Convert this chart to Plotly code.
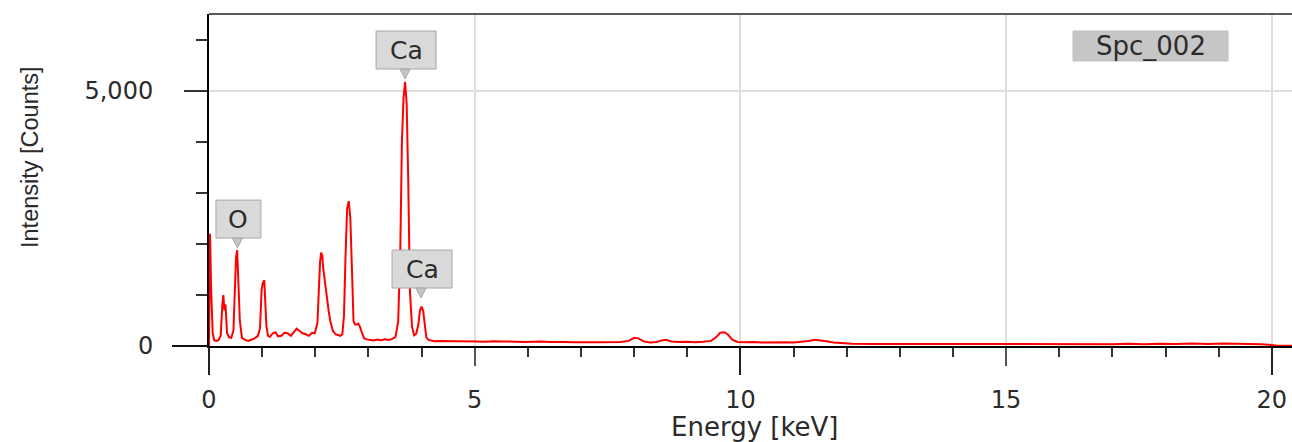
import plotly.graph_objects as go

# ---------------- data ----------------
energy_kev = [
    0.00, 0.02, 0.04, 0.07, 0.10, 0.14, 0.18, 0.22, 0.25, 0.27, 0.29, 0.31, 0.34, 0.38, 0.42,
    0.46, 0.49, 0.51, 0.53, 0.55, 0.58, 0.62, 0.68, 0.74, 0.80, 0.86, 0.92, 0.96, 0.99, 1.01,
    1.04, 1.06, 1.08, 1.11, 1.15, 1.20, 1.25, 1.30, 1.36, 1.42, 1.48, 1.54, 1.60, 1.65, 1.70,
    1.76, 1.82, 1.88, 1.94, 1.99, 2.04, 2.07, 2.09, 2.11, 2.13, 2.15, 2.18, 2.21, 2.25, 2.28,
    2.33, 2.38, 2.43, 2.47, 2.51, 2.54, 2.57, 2.60, 2.63, 2.66, 2.69, 2.72, 2.75, 2.78, 2.81,
    2.84, 2.88, 2.92, 2.97, 3.03, 3.10, 3.17, 3.24, 3.31, 3.38, 3.45, 3.51, 3.56, 3.60, 3.63,
    3.66, 3.69, 3.72, 3.75, 3.78, 3.82, 3.86, 3.90, 3.94, 3.97, 4.00, 4.03, 4.06, 4.09, 4.13,
    4.18, 4.24, 4.32, 4.45, 4.60, 4.75, 4.90, 5.05, 5.20, 5.35, 5.50, 5.65, 5.80, 5.95, 6.10,
    6.25, 6.40, 6.55, 6.70, 6.85, 7.00, 7.15, 7.30, 7.45, 7.60, 7.75, 7.90, 8.00, 8.08, 8.18,
    8.30, 8.42, 8.52, 8.60, 8.70, 8.85, 9.00, 9.15, 9.30, 9.45, 9.55, 9.62, 9.70, 9.77, 9.85,
    9.95, 10.10, 10.25, 10.40, 10.55, 10.70, 10.85, 11.00, 11.15, 11.28, 11.40, 11.50, 11.62, 11.75, 11.90,
    12.10, 12.50, 13.00, 13.50, 14.00, 14.50, 15.00, 15.50, 16.00, 16.50, 17.00, 17.30, 17.60, 17.90, 18.20,
    18.50, 18.80, 19.10, 19.40, 19.60, 19.80, 20.00, 20.10, 20.45,
]
counts = [
    0, 2200, 1100, 250, 110, 100, 120, 200, 800, 1000, 700, 820, 250, 170, 160,
    300, 1200, 1750, 1880, 1400, 500, 160, 120, 100, 130, 150, 200, 350, 1100, 1230,
    1290, 900, 400, 200, 180, 250, 270, 190, 200, 260, 250, 200, 290, 340, 300,
    250, 230, 200, 260, 250, 450, 1200, 1650, 1830, 1780, 1520, 1250, 1030, 700, 500,
    300, 230, 210, 200, 230, 600, 1800, 2700, 2840, 2500, 1500, 480, 420, 420, 440,
    380, 250, 150, 130, 120, 110, 125, 115, 130, 120, 140, 180, 480, 1900, 4000,
    4850, 5180, 4750, 3200, 1100, 380, 210, 240, 420, 700, 770, 690, 420, 170, 120,
    105, 95, 100, 100, 90, 95, 100, 90, 85, 95, 90, 85, 90, 80, 85,
    90, 80, 85, 80, 75, 80, 75, 75, 75, 75, 80, 100, 160, 150, 90,
    70, 80, 110, 120, 90, 80, 85, 75, 85, 100, 180, 260, 270, 220, 120,
    80, 75, 80, 70, 75, 70, 75, 70, 80, 100, 120, 115, 95, 70, 55,
    45, 40, 40, 35, 35, 35, 30, 30, 30, 30, 35, 45, 35, 45, 40,
    50, 40, 50, 45, 50, 35, 20, 5, 5,
]

peak_labels = ["O", "Ca", "Ca"]
peak_label_energy = [0.535, 3.69, 3.99]
peak_label_counts = [1920, 5235, 940]

spectrum_name = "Spc_002"
x_title = "Energy [keV]"
y_title = "Intensity [Counts]"
x_range = [0, 20.38]
y_range = [0, 6510]
x_long_ticks = [0, 10, 20]
y_long_ticks = [0]

# ---------------- layout constants ----------------
W, H = 1292, 442
ML, MR, MT, MB = 209, 0, 14, 96
PW = W - ML - MR
PH = H - MT - MB


def px_x(p):
    return (p - ML) / PW


def px_y(p):
    return (H - MB - p) / PH


TXT = "#2b2b2b"
FONT = "DejaVu Sans"

fig = go.Figure()
fig.add_trace(go.Scatter(
    x=energy_kev, y=counts, mode="lines",
    line=dict(color="#ff0000", width=2),
    hoverinfo="skip", showlegend=False,
))
# carrier trace for the overlay axes that draw the longer ticks
fig.add_trace(go.Scatter(x=[None], y=[None], xaxis="x2", yaxis="y2",
                         mode="lines", showlegend=False, hoverinfo="skip"))

# peak labels: grey box with a small pointer
for lab, ex, cy in zip(peak_labels, peak_label_energy, peak_label_counts):
    bw = 45 if len(lab) == 1 else 60
    bh = 38
    th = 10
    fig.add_shape(type="rect", xref="x", yref="y", xsizemode="pixel", ysizemode="pixel",
                  xanchor=ex, yanchor=cy, x0=-bw / 2 + 1, x1=bw / 2 + 1, y0=th, y1=th + bh,
                  fillcolor="#d9d9d9", line=dict(color="#a8a8a8", width=1), layer="above")
    fig.add_shape(type="path", xref="x", yref="y", xsizemode="pixel", ysizemode="pixel",
                  xanchor=ex, yanchor=cy, path=f"M -5,{th} L 5,{th} L 0,0 Z",
                  fillcolor="#c4c4c4", line=dict(color="#a8a8a8", width=1), layer="above")
    fig.add_annotation(x=ex, y=cy, xref="x", yref="y", text=lab, showarrow=False,
                       xshift=1, yshift=th + bh / 2, xanchor="center", yanchor="middle",
                       font=dict(family=FONT, size=25, color=TXT))

# spectrum name box
fig.add_shape(type="rect", xref="paper", yref="paper",
              x0=px_x(1073), x1=px_x(1228), y0=px_y(61), y1=px_y(31),
              fillcolor="#c6c6c6", line=dict(color="#c0c0c0", width=1), layer="above")
fig.add_annotation(xref="paper", yref="paper", x=px_x(1150.5), y=px_y(46),
                   text=spectrum_name, showarrow=False, xanchor="center", yanchor="middle",
                   font=dict(family=FONT, size=26, color=TXT))

# top frame line
fig.add_shape(type="line", xref="paper", yref="paper", x0=0, x1=1, y0=1, y1=1,
              line=dict(color="#5a5a5a", width=2), layer="above")

# axis titles
fig.add_annotation(xref="paper", yref="paper", x=px_x(755), y=px_y(427),
                   text=x_title, showarrow=False, xanchor="center", yanchor="middle",
                   font=dict(family=FONT, size=26, color=TXT))
fig.add_annotation(xref="paper", yref="paper", x=px_x(30), y=px_y(157),
                   text=y_title, showarrow=False, textangle=-90,
                   xanchor="center", yanchor="middle",
                   font=dict(family="Liberation Sans", size=23.5, color=TXT))

tickfont = dict(family=FONT, size=24, color=TXT)

fig.update_layout(
    width=W, height=H,
    margin=dict(l=ML, r=MR, t=MT, b=MB, pad=0),
    paper_bgcolor="white", plot_bgcolor="white",
    showlegend=False,
    xaxis=dict(
        range=x_range, tick0=0, dtick=5,
        showgrid=True, gridcolor="#dedede", gridwidth=2,
        zeroline=False, showline=True, linecolor="black", linewidth=2,
        ticks="outside", ticklen=18, tickwidth=2, tickcolor="#555555",
        minor=dict(tick0=0, dtick=1, ticks="outside", ticklen=9, tickwidth=2,
                   tickcolor="#333333", showgrid=False),
        tickfont=tickfont, ticklabelstandoff=13, fixedrange=True,
    ),
    yaxis=dict(
        range=y_range, tick0=0, dtick=5000, tickformat=",",
        showgrid=True, gridcolor="#dedede", gridwidth=2,
        zeroline=False, showline=True, linecolor="black", linewidth=2,
        ticks="outside", ticklen=23, tickwidth=2, tickcolor="#333333",
        minor=dict(tick0=0, dtick=1000, ticks="outside", ticklen=11, tickwidth=2,
                   tickcolor="#333333", showgrid=False),
        tickfont=tickfont, ticklabelstandoff=26, fixedrange=True,
    ),
    xaxis2=dict(
        overlaying="x", anchor="y2", side="bottom", range=x_range,
        tickmode="array", tickvals=x_long_ticks, ticks="outside", ticklen=28,
        tickwidth=2, tickcolor="#222222", showticklabels=False,
        showgrid=False, zeroline=False, showline=False, fixedrange=True,
    ),
    yaxis2=dict(
        overlaying="y", anchor="x2", side="left", range=y_range,
        tickmode="array", tickvals=y_long_ticks, ticks="outside", ticklen=36,
        tickwidth=2, tickcolor="#111111", showticklabels=False,
        showgrid=False, zeroline=False, showline=False, fixedrange=True,
    ),
)

fig.write_html("out.html")
